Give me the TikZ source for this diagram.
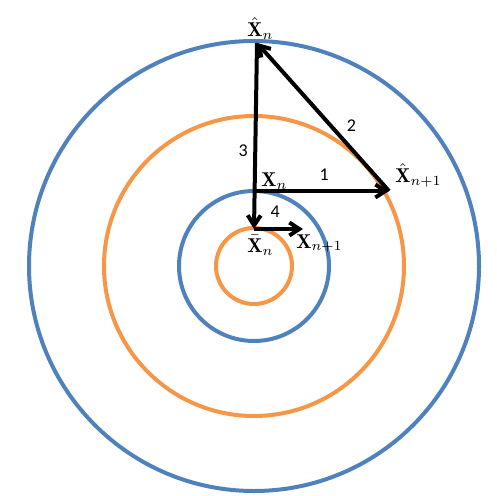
\documentclass[tikz,border=0pt]{standalone}
\usepackage{amsmath}
\usepackage{amssymb}
\usepackage{fontspec}
\usepackage[usenames,dvipsnames]{xcolor}
\usepackage{tikz}
\usetikzlibrary{arrows.meta,calc,positioning}
\newfontfamily\numfont{Carlito}
\definecolor{ringblue}{RGB}{79,129,189}
\definecolor{ringorange}{RGB}{247,150,70}
\tikzset{
	rings diagram/.style={
		x=0.5pt, y=-0.5pt,
		ring/.style={draw=##1, line width=2pt},
		ar/.style={draw, line width=2pt, -{Straight Barb[length=5pt,width=6.5pt]}},
		num/.style={font=\fontsize{9}{9}\selectfont\numfont, inner sep=0pt},
		lbl/.style={inner sep=0pt}
	}
}

\begin{document}
\begin{tikzpicture}[rings diagram]
	\useasboundingbox (0,0) rectangle (496,496);
	\coordinate (O) at (254,266);
	\foreach \r/\c in {225/ringblue,150/ringorange,75/ringblue,38/ringorange}
		\draw[ring=\c] (O) circle[radius=\r];
	\coordinate (Xt) at (257,43);
	\coordinate (Xa) at (254,191);
	\coordinate (Xr) at (389,191);
	\coordinate (Xb) at (254,229);
	\coordinate (Xc) at (303,229);
	\draw[ar] (Xa) -- node[num, pos=.52, above=4pt] {1} (Xr);
	\draw[ar] (Xr) -- node[num, pos=.44, right=7pt] {2} (Xt);
	\draw[ar] (Xt) -- node[num, pos=.58, left=2.7pt] {3} (Xb);
	\draw[ar] (Xb) -- node[num, pos=.43, above=4.7pt] {4} (Xc);
	\node[lbl, above right=3pt and -5pt of Xt, anchor=base west] (Lt) {$\hat{\mathbf{X}}_n$};
	\node[lbl, above right=2pt and 3.5pt of Xa, anchor=base west] (La) {$\mathbf{X}_n$};
	\node[lbl, above right=4pt and 3pt of Xr, anchor=base west] (Lr) {$\hat{\mathbf{X}}_{n+1}$};
	\node[lbl, below right=11.5pt and -3.5pt of Xb, anchor=base west] (Lb) {$\bar{\mathbf{X}}_n$};
	\node[lbl, below right=9.5pt and -3.5pt of Xc, anchor=base west] (Lc) {$\mathbf{X}_{n+1}$};
\end{tikzpicture}
\end{document}
